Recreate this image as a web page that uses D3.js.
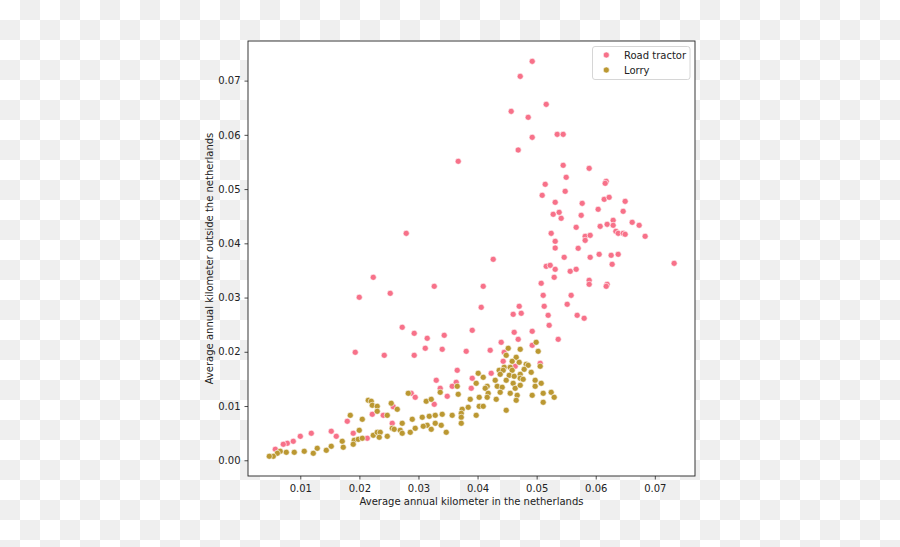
<!DOCTYPE html>
<html><head><meta charset="utf-8">
<script src="https://cdn.jsdelivr.net/npm/d3@7"></script>
<style>body{margin:0;background:#fff;} svg{display:block;}</style>
</head><body>
<script>
const seriesNames = ["Road tractor", "Lorry"];
const seriesColors = ["#f77189", "#bb9832"];
const roadTractorX = [0.04925,0.04722,0.05162,0.04569,0.04857,0.04925,0.05348,0.05449,0.04688,0.03673,
0.05449,0.05889,0.05500,0.06177,0.06160,0.05145,0.05094,0.05483,0.05314,0.05771,
0.06143,0.06227,0.06498,0.06041,0.06464,0.05280,0.05381,0.05754,0.05415,0.06617,
0.06735,0.06075,0.06193,0.06295,0.06295,0.05669,0.05246,0.06341,0.06380,0.06464,
0.06498,0.06836,0.05821,0.05906,0.05821,0.05314,0.05314,0.05703,0.04265,0.05466,
0.05906,0.06058,0.06261,0.06380,0.07327,0.06278,0.05162,0.05229,0.05314,0.05568,
0.05669,0.05297,0.05077,0.05889,0.05889,0.06193,0.06177,0.05111,0.05584,0.05517,
0.05128,0.04705,0.04603,0.04739,0.05195,0.05686,0.05804,0.05212,0.04620,0.04925,
0.04688,0.05365,0.04400,0.04925,0.04214,0.04451,0.04434,0.05060,0.04637,0.04231,
0.04096,0.04062,0.03436,0.03402,0.03808,0.03910,0.03656,0.03910,0.03639,0.03571,
0.03487,0.03893,0.03368,0.02793,0.02235,0.01998,0.02522,0.03267,0.02725,0.02928,
0.03148,0.01930,0.02421,0.02928,0.03115,0.03301,0.02878,0.02945,0.03267,0.02218,
0.02404,0.02573,0.02556,0.01795,0.01186,0.01524,0.01609,0.01896,0.02133,0.01000,
0.00881,0.00780,0.00712,0.00577];
const roadTractorY = [0.07355,0.07078,0.06562,0.06433,0.06323,0.05954,0.06009,0.06009,0.05720,0.05512,
0.05438,0.05382,0.05217,0.05143,0.05106,0.05088,0.04885,0.04959,0.04756,0.04737,
0.04811,0.04848,0.04774,0.04627,0.04590,0.04535,0.04571,0.04516,0.04461,0.04387,
0.04332,0.04313,0.04350,0.04424,0.04332,0.04295,0.04184,0.04221,0.04184,0.04184,
0.04166,0.04129,0.04129,0.04147,0.04055,0.04037,0.03913,0.03908,0.03705,0.03742,
0.03742,0.03797,0.03779,0.03797,0.03631,0.03613,0.03576,0.03594,0.03521,0.03484,
0.03521,0.03373,0.03263,0.03318,0.03244,0.03244,0.03207,0.03041,0.03041,0.02876,
0.02839,0.02839,0.02691,0.02710,0.02673,0.02673,0.02618,0.02488,0.02359,0.02378,
0.02230,0.02230,0.02175,0.02120,0.02028,0.01991,0.01825,0.01788,0.01733,0.01604,
0.03207,0.02820,0.02304,0.02046,0.02009,0.02396,0.01659,0.01512,0.01438,0.01364,
0.01180,0.01327,0.01327,0.04184,0.03373,0.03005,0.03078,0.03207,0.02452,0.02341,
0.02249,0.01991,0.01935,0.01935,0.02065,0.01475,0.01235,0.01161,0.01032,0.00848,
0.00829,0.00988,0.00682,0.00719,0.00498,0.00535,0.00442,0.00498,0.00406,0.00442,
0.00350,0.00313,0.00295,0.00203];
const lorryX = [0.04992,0.04519,0.04722,0.05026,0.04485,0.04654,0.04586,0.04705,0.04823,0.04857,
0.05060,0.04451,0.04553,0.04366,0.04434,0.04586,0.04789,0.04908,0.04383,0.04536,
0.04620,0.04722,0.04299,0.04485,0.04603,0.04722,0.04772,0.04975,0.05077,0.04333,
0.04417,0.04637,0.04722,0.04975,0.04383,0.04553,0.04671,0.04925,0.05111,0.05246,
0.05297,0.04316,0.04654,0.05111,0.04485,0.04011,0.04096,0.03977,0.04163,0.03656,
0.03368,0.03673,0.04130,0.04180,0.04163,0.04028,0.03876,0.02827,0.03131,0.03216,
0.04028,0.04096,0.03740,0.03842,0.03724,0.03977,0.02725,0.02895,0.03064,0.03182,
0.03284,0.03402,0.03571,0.03724,0.03148,0.03284,0.03385,0.03724,0.02150,0.02201,
0.02218,0.02302,0.02539,0.02641,0.02302,0.01846,0.02049,0.02472,
0.02556,0.02590,0.02692,0.02725,0.02861,0.02945,0.03081,0.03216,0.03470,0.01998,
0.01710,0.01913,0.01981,0.02049,0.02235,0.02302,0.02353,0.02336,0.02472,0.01896,
0.01727,0.01524,0.01440,0.01287,0.01220,0.01067,0.00898,0.00763,0.00661,0.00611,0.00543,0.00475];
const lorryY = [0.02175,0.02065,0.02046,0.02009,0.01935,0.01899,0.01825,0.01806,0.01770,0.01751,
0.01733,0.01714,0.01714,0.01659,0.01659,0.01659,0.01677,0.01622,0.01585,0.01567,
0.01548,0.01585,0.01475,0.01475,0.01419,0.01512,0.01493,0.01475,0.01419,0.01364,
0.01346,0.01327,0.01382,0.01364,0.01253,0.01235,0.01198,0.01198,0.01235,0.01253,
0.01161,0.01124,0.01106,0.01069,0.00922,0.01604,0.01530,0.01419,0.01364,0.01364,
0.01253,0.01217,0.01327,0.01235,0.01161,0.01161,0.01124,0.01235,0.01088,0.01124,
0.00995,0.00995,0.00940,0.00977,0.00866,0.00829,0.00682,0.00756,0.00793,0.00811,
0.00829,0.00848,0.00829,0.00793,0.00645,0.00682,0.00645,0.00682,0.01106,0.01088,
0.01014,0.00995,0.01051,0.00940,0.00903,0.00829,0.00756,0.00829,
0.00590,0.00571,0.00553,0.00498,0.00516,0.00590,0.00627,0.00571,0.00516,0.00553,
0.00350,0.00369,0.00387,0.00406,0.00461,0.00516,0.00516,0.00424,0.00442,0.00295,
0.00240,0.00258,0.00184,0.00221,0.00129,0.00166,0.00147,0.00147,0.00166,0.00129,0.00074,0.00074];
const xTicks = [0.01,0.02,0.03,0.04,0.05,0.06,0.07];
const yTicks = [0.00,0.01,0.02,0.03,0.04,0.05,0.06,0.07];
const xDomain = [0.00115, 0.0768];
const yDomain = [-0.0029, 0.0773];
const xLabel = "Average annual kilometer in the netherlands";
const yLabel = "Average annual kilometer outside the netherlands";

const W = 900, H = 547;
const plot = {left: 248, top: 41, right: 695, bottom: 476};
const font = "'DejaVu Sans', sans-serif";
const textColor = "#222";
const markerR = 3.05;

const svg = d3.select("body").append("svg").attr("width", W).attr("height", H);
const defs = svg.append("defs");
const pat = defs.append("pattern").attr("id", "checker").attr("patternUnits", "userSpaceOnUse")
  .attr("width", 40).attr("height", 40);
pat.append("rect").attr("width", 40).attr("height", 40).attr("fill", "#ffffff");
pat.append("rect").attr("x", 20).attr("y", 0).attr("width", 20).attr("height", 20).attr("fill", "#efefef");
pat.append("rect").attr("x", 0).attr("y", 20).attr("width", 20).attr("height", 20).attr("fill", "#efefef");
svg.append("rect").attr("width", W).attr("height", H).attr("fill", "url(#checker)");

svg.append("rect").attr("x", plot.left).attr("y", plot.top)
  .attr("width", plot.right - plot.left).attr("height", plot.bottom - plot.top).attr("fill", "#fff");

const x = d3.scaleLinear().domain(xDomain).range([plot.left, plot.right]);
const y = d3.scaleLinear().domain(yDomain).range([plot.bottom, plot.top]);

const xAxis = svg.append("g").attr("transform", `translate(0,${plot.bottom})`)
  .call(d3.axisBottom(x).tickValues(xTicks).tickFormat(d3.format(".2f")).tickSize(3.5).tickPadding(5).tickSizeOuter(0));
const yAxis = svg.append("g").attr("transform", `translate(${plot.left},0)`)
  .call(d3.axisLeft(y).tickValues(yTicks).tickFormat(d3.format(".2f")).tickSize(3.5).tickPadding(4).tickSizeOuter(0));
[xAxis, yAxis].forEach(g => {
  g.select(".domain").remove();
  g.selectAll("line").attr("stroke", "#222").attr("stroke-width", 0.8);
  g.selectAll("text").attr("font-family", font).attr("font-size", 10).attr("fill", textColor);
});

const series = [
  {name: seriesNames[0], color: seriesColors[0], xs: roadTractorX, ys: roadTractorY},
  {name: seriesNames[1], color: seriesColors[1], xs: lorryX, ys: lorryY}
];
series.forEach(s => {
  const pts = s.xs.map((v, i) => [v, s.ys[i]]);
  svg.append("g").selectAll("circle").data(pts).join("circle")
    .attr("cx", d => x(d[0])).attr("cy", d => y(d[1])).attr("r", markerR)
    .attr("fill", s.color).attr("stroke", "#fff").attr("stroke-width", 0.6);
});

svg.append("rect").attr("x", plot.left).attr("y", plot.top)
  .attr("width", plot.right - plot.left).attr("height", plot.bottom - plot.top)
  .attr("fill", "none").attr("stroke", "#222").attr("stroke-width", 0.9);

// legend
const lg = svg.append("g");
lg.append("rect").attr("x", 592.5).attr("y", 46.5).attr("width", 97.5).attr("height", 33)
  .attr("rx", 2.5).attr("fill", "#fff").attr("fill-opacity", 0.8).attr("stroke", "#cccccc").attr("stroke-width", 0.8);
series.forEach((s, i) => {
  const cy = 55 + i * 15;
  lg.append("circle").attr("cx", 606.3).attr("cy", cy).attr("r", markerR)
    .attr("fill", s.color).attr("stroke", "#fff").attr("stroke-width", 0.6);
  lg.append("text").attr("x", 624).attr("y", cy + 3.6).text(s.name)
    .attr("font-family", font).attr("font-size", 10).attr("fill", textColor);
});

svg.append("text").attr("x", (plot.left + plot.right) / 2).attr("y", 504.5)
  .attr("text-anchor", "middle").attr("font-family", font).attr("font-size", 10).attr("fill", textColor)
  .text(xLabel);
svg.append("text").attr("transform", `translate(212.6,${(plot.top + plot.bottom) / 2}) rotate(-90)`)
  .attr("text-anchor", "middle").attr("font-family", font).attr("font-size", 10).attr("fill", textColor)
  .text(yLabel);
</script>
</body></html>
